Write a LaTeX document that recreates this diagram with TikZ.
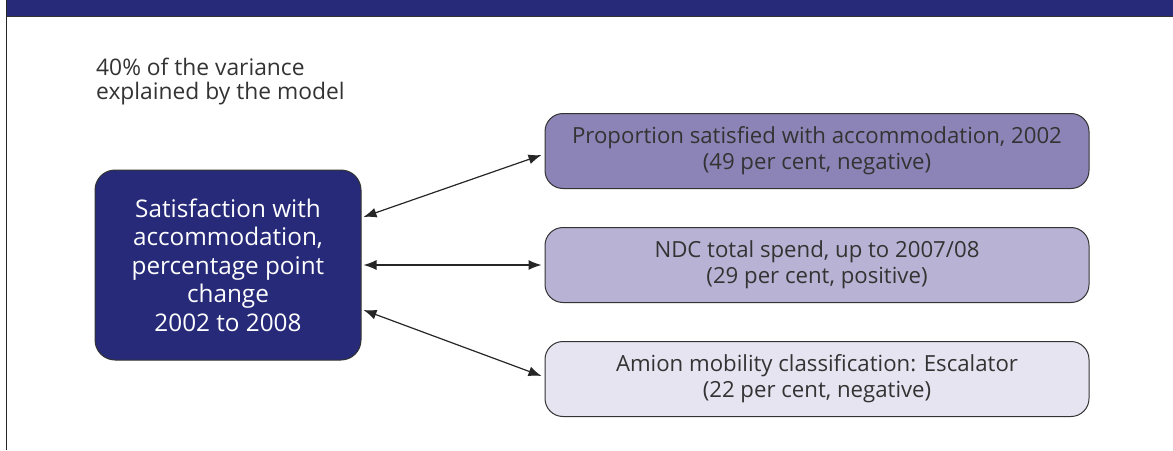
\documentclass[tikz,border=0pt]{standalone}
\usepackage{fontspec}
\setmainfont{Open Sans}
\usetikzlibrary{arrows.meta}
\definecolor{navy}{HTML}{262A78}
\definecolor{textgray}{HTML}{333333}
\definecolor{boxA}{HTML}{8C84B6}
\definecolor{boxB}{HTML}{B8B3D4}
\definecolor{boxC}{HTML}{E6E4F1}
\tikzset{
  factor/.style={draw=black!80, line width=1pt, rounded corners=18pt, text=textgray,
    font=\fontsize{22.2}{26}\selectfont, align=center, minimum width=544pt, minimum height=75pt, inner sep=0pt},
  link/.style={{Latex[length=13pt,width=10pt]}-{Latex[length=13pt,width=10pt]}, line width=1.2pt, black!85}
}
\begin{document}
\begin{tikzpicture}[x=1pt,y=-1pt]
\useasboundingbox (0,0) rectangle (1173,450);
% header band and frame line
\fill[navy] (6,0) rectangle (1173,16);
\draw[black!80, line width=1pt] (6,16.5) -- (1173,16.5);
\draw[black!85, line width=1.8pt] (6.5,0) -- (6.5,450);
% note on explained variance
\node[anchor=north west, align=left, text=textgray, font=\fontsize{22.8}{24}\selectfont, inner sep=0pt] (note) at (96,58)
  {40\% of the variance\\explained by the model};
% outcome box
\node[draw=black!80, fill=navy, line width=1pt, rounded corners=20pt, text=white, align=center,
  font=\fontsize{24.3}{28.5}\selectfont, minimum width=266pt, minimum height=190pt, inner sep=0pt] (out) at (228,265)
  {Satisfaction with\\accommodation,\\percentage point\\change\\2002 to 2008};
% explanatory factors
\node[factor, fill=boxA] (f1) at (817,151) {Proportion satisfied with accommodation, 2002\\(49 per cent, negative)};
\node[factor, fill=boxB] (f2) at (817,265) {NDC total spend, up to 2007/08\\(29 per cent, positive)};
\node[factor, fill=boxC] (f3) at (817,379) {Amion mobility classification: Escalator\\(22 per cent, negative)};
% links
\draw[link] ([shift={(2,-48)}]out.east) -- ([shift={(-3,4)}]f1.west);
\draw[link] ([shift={(2,0)}]out.east) -- ([shift={(-3,0)}]f2.west);
\draw[link] ([shift={(2,45)}]out.east) -- ([shift={(-3,-3)}]f3.west);
\end{tikzpicture}
\end{document}
